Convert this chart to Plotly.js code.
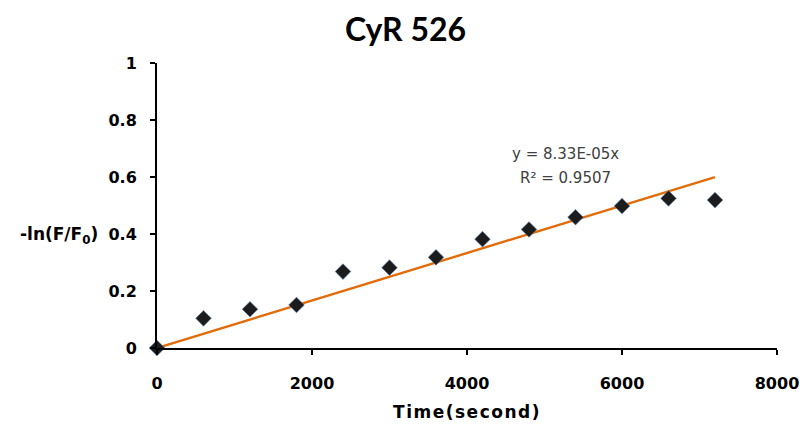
<!DOCTYPE html>
<html><head><meta charset="utf-8">
<script src="https://cdn.plot.ly/plotly-3.0.1.min.js"></script>
<style>body{margin:0;padding:0;background:#fff}#c{width:803px;height:427px}
.xtitle{letter-spacing:1.5px}</style>
</head><body><div id="c"></div>
<script>
var timeSec = [0, 600, 1200, 1800, 2400, 3000, 3600, 4200, 4800, 5400, 6000, 6600, 7200];
var negLnF = [0, 0.104, 0.136, 0.151, 0.268, 0.282, 0.318, 0.382, 0.416, 0.459, 0.498, 0.525, 0.519];
var slope = 8.33e-5;
var fitX = [0, 7200];
var fitY = fitX.map(function(x){return slope*x;});
var xTicks = [0, 2000, 4000, 6000, 8000];
var yTicks = [0, 0.2, 0.4, 0.6, 0.8, 1];

var FT = 'Lato, "Open Sans", sans-serif';
var FA = '"DejaVu Sans", Verdana, sans-serif';
var data = [
  {x: fitX, y: fitY, mode: 'lines', line: {color: '#E36C0A', width: 2.4}, hoverinfo: 'none'},
  {x: timeSec, y: negLnF, mode: 'markers', cliponaxis: false,
   marker: {symbol: 'diamond', size: 12, color: '#1c1c1c', line: {color: '#5a7fb0', width: 0.6}}}
];
var axisCommon = {showgrid: false, zeroline: false, showline: true, linecolor: '#000', linewidth: 2,
  ticks: 'outside', ticklen: 5, tickwidth: 1.5, tickcolor: '#000', ticklabelstandoff: 10,
  tickfont: {family: FA, size: 16, color: '#000', weight: 'bold'}};
var layout = {
  width: 803, height: 427, paper_bgcolor: '#fff', plot_bgcolor: '#fff', showlegend: false,
  margin: {l: 157, r: 26, t: 63, b: 79},
  title: {text: '<b>CyR 526</b>', font: {family: FT, size: 32, color: '#000'}, x: 0.505, xanchor: 'center', y: 0.93, yanchor: 'middle'},
  xaxis: Object.assign({}, axisCommon, {range: [0, 8000], tickvals: xTicks, ticktext: xTicks.map(String),
    ticklabelstandoff: 15,
    title: {text: '<b>Time(second)</b>', font: {family: FA, size: 17, color: '#000'}, standoff: 14}}),
  yaxis: Object.assign({}, axisCommon, {range: [0, 1], tickvals: yTicks, ticktext: yTicks.map(String)}),
  annotations: [
    {xref: 'paper', yref: 'paper', x: -0.092, y: 0.395, xanchor: 'right', yanchor: 'middle', showarrow: false,
     text: '<b>-ln(F/F<sub>0</sub>)</b>', font: {family: FA, size: 17, color: '#000'}},
    {xref: 'x', yref: 'y', x: 5277, y: 0.68, showarrow: false, xanchor: 'center',
     text: 'y = 8.33E-05x', font: {family: FA, size: 15, color: '#404040'}},
    {xref: 'x', yref: 'y', x: 5277, y: 0.597, showarrow: false, xanchor: 'center',
     text: 'R² = 0.9507', font: {family: FA, size: 15, color: '#404040'}}
  ]
};
Plotly.newPlot('c', data, layout, {displayModeBar: false, staticPlot: true});
</script></body></html>
